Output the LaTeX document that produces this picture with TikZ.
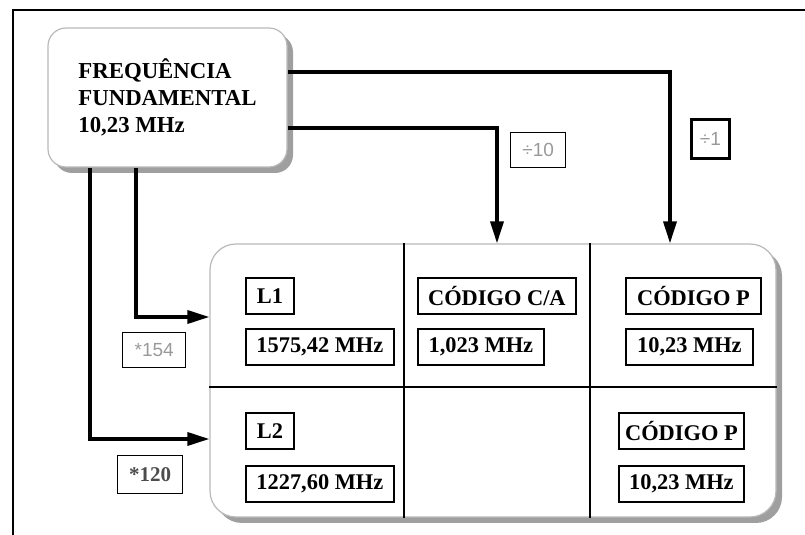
\documentclass[tikz,border=0pt]{standalone}
\usepackage{fontspec}
\setmainfont{Liberation Serif}
\newfontfamily\tagsans{Liberation Sans}
\usetikzlibrary{arrows.meta, positioning, shadows}

\begin{document}
\begin{tikzpicture}[
  x=0.5pt, y=-0.5pt,
  >={Triangle[length=11pt, width=6.5pt]},
  conn/.style   = {line width=1.7pt},
  panel/.style  = {draw=gray!55, line width=0.6pt, fill=white,
                   drop shadow={shadow xshift=3pt, shadow yshift=-3pt,
                                fill=gray!75, opacity=1}},
  tag/.style    = {draw, line width=0.9pt, anchor=north west, inner sep=1pt,
                   minimum height=18pt, font=\fontsize{11.2}{13}\selectfont\bfseries},
  factor/.style = {draw, line width=0.7pt, anchor=north west, inner sep=1pt,
                   text=gray!80, font=\tagsans\fontsize{9.5}{11}\selectfont},
]
  \useasboundingbox (0,0) rectangle (805,535);

  % frame
  \draw[line width=1pt] (13,535) -- (13,10) -- (805,10);

  % source and signal panels
  \node[panel, rounded corners=9pt, minimum width=119.5pt, minimum height=69.5pt,
        align=left, font=\fontsize{11.4}{13.5}\selectfont\bfseries]
        (freq) at (167.5,97.5) {FREQUÊNCIA\\FUNDAMENTAL\\10,23 MHz};
  \node[panel, rounded corners=13pt, minimum width=283pt, minimum height=136.5pt]
        (sig) at (493,380.5) {};

  % grid inside the signal panel
  \draw[line width=0.8pt] ([xshift=-44.5pt]sig.north) -- ([xshift=-44.5pt]sig.south);
  \draw[line width=0.8pt] ([xshift=48.5pt]sig.north)  -- ([xshift=48.5pt]sig.south);
  \draw[line width=0.8pt] ([yshift=-3.25pt]sig.west)  -- ([yshift=-3.25pt]sig.east);

  % carriers and codes
  \node[tag, minimum width=24pt]   (L1)    at (245,277) {L1};
  \node[tag, minimum width=74pt]   (fL1)   at (245,328) {1575,42 MHz};
  \node[tag, minimum width=24pt]   (L2)    at (245,412) {L2};
  \node[tag, minimum width=74pt]   (fL2)   at (245,465) {1227,60 MHz};
  \node[tag, minimum width=79pt]   (CA)    at (417,277) {CÓDIGO C/A};
  \node[tag, minimum width=63pt]   (fCA)   at (417,328) {1,023 MHz};
  \node[tag, minimum width=67.5pt] (P1)    at (625,277) {CÓDIGO P};
  \node[tag, minimum width=63.5pt] (fP1)   at (625,328) {10,23 MHz};
  \node[tag, minimum width=62.5pt] (P2)    at (618,412) {CÓDIGO P};
  \node[tag, minimum width=62.5pt] (fP2)   at (618,465) {10,23 MHz};

  % factors
  \node[factor, minimum width=27.5pt, minimum height=17.5pt] (div10) at (510,132) {÷10};
  \node[factor, minimum width=19pt, minimum height=19.5pt, line width=1.4pt] (div1) at (690,118) {÷1};
  \node[factor, minimum width=31.5pt, minimum height=17.5pt] (mul154) at (122,332) {*154};
  \node[factor, minimum width=32.5pt, minimum height=19pt, text=gray!60!black,
        font=\fontsize{10.5}{12}\selectfont\bfseries] (mul120) at (117,455) {*120};

  % connectors
  \draw[conn, ->] ([yshift=12.75pt]freq.east)   -| ([xshift=88.5pt]sig.north);
  \draw[conn, ->] ([yshift=-15.25pt]freq.east)  -| ([xshift=2pt]sig.north);
  \draw[conn, ->] ([xshift=-15.75pt]freq.south) |- ([yshift=31.75pt]sig.west);
  \draw[conn, ->] ([xshift=-38.75pt]freq.south) |- ([yshift=-29.25pt]sig.west);
\end{tikzpicture}
\end{document}
